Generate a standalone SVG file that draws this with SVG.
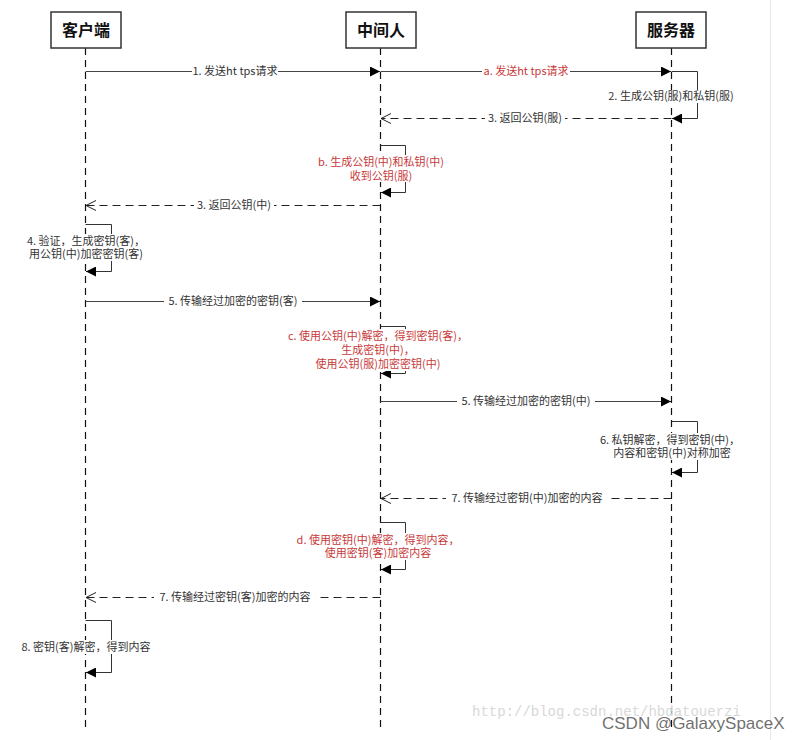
<svg xmlns="http://www.w3.org/2000/svg" width="794" height="740" viewBox="0 0 794 740">
<defs>
<marker id="fill" markerWidth="10" markerHeight="10" refX="10" refY="5" orient="auto" markerUnits="userSpaceOnUse">
<path d="M0,0 L10,5 L0,10 Z" fill="#000"/>
</marker>
<marker id="open" markerWidth="12" markerHeight="12" refX="11" refY="6" orient="auto" markerUnits="userSpaceOnUse">
<path d="M1,1 L11,6 L1,11" fill="none" stroke="#222" stroke-width="1"/>
</marker>
</defs>
<style>
.box{fill:#fff;stroke:#333;stroke-width:1.5}
.hd{font-family:"Noto Sans CJK SC","Noto Sans",sans-serif;font-size:16px;font-weight:bold;fill:#111;text-anchor:middle}
.life{stroke:#111;stroke-width:1.2;stroke-dasharray:7,5;fill:none}
.msg{stroke:#444;stroke-width:1;fill:none}
.ret{stroke:#222;stroke-width:1;stroke-dasharray:8,5;fill:none}
.loop{stroke:#333;stroke-width:1;fill:none}
.lb{font-family:"Noto Sans CJK SC","Noto Sans",sans-serif;font-size:11px;fill:#333;text-anchor:middle}
.red{fill:#c83a3a}
.bg{fill:#fff}
</style>
<rect width="794" height="740" fill="#fff"/>
<line x1="770.5" y1="0" x2="770.5" y2="740" stroke="#e6e6e6" stroke-width="1"/>

<g id="lifelines">
<line class="life" x1="85.5" y1="48" x2="85.5" y2="728"/>
<line class="life" x1="380.5" y1="48" x2="380.5" y2="728"/>
<line class="life" x1="671.5" y1="48" x2="671.5" y2="728"/>
</g>

<g id="client"><rect class="box" x="51" y="12" width="70" height="36"/><text class="hd" x="86" y="36">客户端</text></g>
<g id="middle"><rect class="box" x="346" y="12" width="70" height="36"/><text class="hd" x="381" y="36">中间人</text></g>
<g id="server"><rect class="box" x="636" y="12" width="70" height="36"/><text class="hd" x="671" y="36">服务器</text></g>

<g id="connectors">
<line class="msg" x1="85.5" y1="71.5" x2="380" y2="71.5" marker-end="url(#fill)"/>
<line class="msg" x1="380.5" y1="71.5" x2="671" y2="71.5" marker-end="url(#fill)"/>
<polyline class="loop" points="671.5,71.5 697.5,71.5 697.5,118.5 672,118.5" marker-end="url(#fill)"/>
<line class="ret" x1="671.5" y1="118.5" x2="381" y2="118.5" marker-end="url(#open)"/>
<polyline class="loop" points="380.5,145.5 405.5,145.5 405.5,192.5 381,192.5" marker-end="url(#fill)"/>
<line class="ret" x1="380.5" y1="205.5" x2="86" y2="205.5" marker-end="url(#open)"/>
<polyline class="loop" points="85.5,224.5 111.5,224.5 111.5,271.5 86,271.5" marker-end="url(#fill)"/>
<line class="msg" x1="85.5" y1="301.5" x2="380" y2="301.5" marker-end="url(#fill)"/>
<polyline class="loop" points="380.5,326.5 405.5,326.5 405.5,373.5 381,373.5" marker-end="url(#fill)"/>
<line class="msg" x1="380.5" y1="401.5" x2="671" y2="401.5" marker-end="url(#fill)"/>
<polyline class="loop" points="671.5,421.5 697.5,421.5 697.5,472.5 672,472.5" marker-end="url(#fill)"/>
<line class="ret" x1="671.5" y1="498.5" x2="381" y2="498.5" marker-end="url(#open)"/>
<polyline class="loop" points="380.5,522.5 405.5,522.5 405.5,569.5 381,569.5" marker-end="url(#fill)"/>
<line class="ret" x1="380.5" y1="597.5" x2="86" y2="597.5" marker-end="url(#open)"/>
<polyline class="loop" points="85.5,620.5 111.5,620.5 111.5,672.5 86,672.5" marker-end="url(#fill)"/>
</g>

<g id="labels">
<rect class="bg" x="192" y="65" width="86" height="13"/>
<text class="lb" x="235" y="75">1. 发送ht tps请求</text>
<rect class="bg" x="482" y="65" width="88" height="13"/>
<text class="lb red" x="526" y="75">a. 发送ht tps请求</text>
<rect class="bg" x="603" y="90" width="136" height="13"/>
<text class="lb" x="671" y="100">2. 生成公钥(服)和私钥(服)</text>
<rect class="bg" x="485" y="112" width="80" height="13"/>
<text class="lb" x="525" y="122">3. 返回公钥(服)</text>
<rect class="bg" x="311" y="155" width="140" height="27"/>
<text class="lb red" x="381" y="166">b. 生成公钥(中)和私钥(中)</text>
<text class="lb red" x="381" y="180">收到公钥(服)</text>
<rect class="bg" x="194" y="199" width="80" height="13"/>
<text class="lb" x="234" y="209">3. 返回公钥(中)</text>
<rect class="bg" x="21" y="234" width="130" height="27"/>
<text class="lb" x="86" y="245">4. 验证，生成密钥(客)，</text>
<text class="lb" x="86" y="258">用公钥(中)加密密钥(客)</text>
<rect class="bg" x="164" y="295" width="138" height="13"/>
<text class="lb" x="233" y="305">5. 传输经过加密的密钥(客)</text>
<rect class="bg" x="284" y="329" width="188" height="42"/>
<text class="lb red" x="378" y="340">c. 使用公钥(中)解密，得到密钥(客)，</text>
<text class="lb red" x="378" y="354">生成密钥(中)，</text>
<text class="lb red" x="378" y="368">使用公钥(服)加密密钥(中)</text>
<rect class="bg" x="457" y="395" width="138" height="13"/>
<text class="lb" x="526" y="405">5. 传输经过加密的密钥(中)</text>
<rect class="bg" x="595" y="433" width="150" height="27"/>
<text class="lb" x="670" y="444">6. 私钥解密，得到密钥(中)，</text>
<text class="lb" x="672" y="457">内容和密钥(中)对称加密</text>
<rect class="bg" x="446" y="492" width="163" height="13"/>
<text class="lb" x="527" y="502">7. 传输经过密钥(中)加密的内容</text>
<rect class="bg" x="295" y="533" width="167" height="27"/>
<text class="lb red" x="378" y="544">d. 使用密钥(中)解密，得到内容，</text>
<text class="lb red" x="378" y="557">使用密钥(客)加密内容</text>
<rect class="bg" x="154" y="591" width="162" height="13"/>
<text class="lb" x="235" y="601">7. 传输经过密钥(客)加密的内容</text>
<rect class="bg" x="17" y="640" width="140" height="14"/>
<text class="lb" x="86" y="651">8. 密钥(客)解密，得到内容</text>
</g>

<g id="watermark">
<text x="472" y="716" font-family="Liberation Mono, monospace" font-size="14" fill="#d8d8d8">http://blog.csdn.net/hbdatouerzi</text>
<text x="602" y="729" font-family="Liberation Sans, Arial, sans-serif" font-size="17" fill="#555" fill-opacity="0.85">CSDN @GalaxySpaceX</text>
</g>
</svg>
